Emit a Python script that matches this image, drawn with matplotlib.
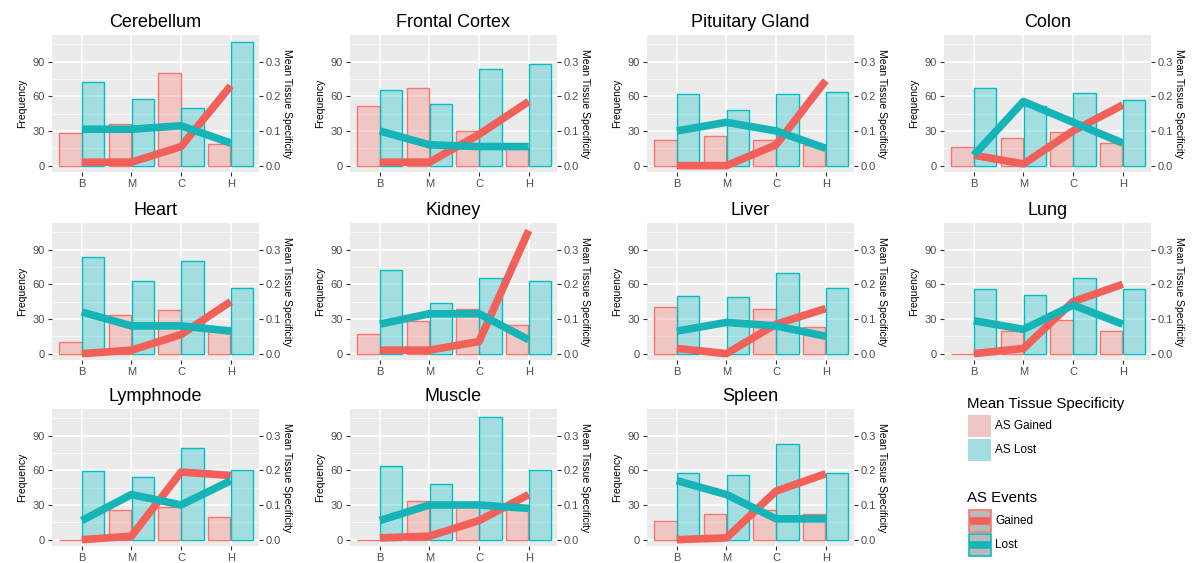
import numpy as np
import matplotlib
matplotlib.use("Agg")
from matplotlib import pyplot as plt
from matplotlib.patches import Rectangle
from matplotlib.lines import Line2D

plt.rcParams['font.family'] = ['Liberation Sans', 'DejaVu Sans']

tissues = ['Cerebellum', 'Frontal Cortex', 'Pituitary Gland', 'Colon',
           'Heart', 'Kidney', 'Liver', 'Lung',
           'Lymphnode', 'Muscle', 'Spleen']
groups = ['B', 'M', 'C', 'H']

# bar heights (frequency of AS events)
gained_freq = [
    [28, 36, 80, 19],
    [52, 67, 30, 15],
    [22, 26, 22, 18],
    [16, 24, 29, 20],
    [10, 33, 38, 23],
    [17, 28, 39, 25],
    [40, 0, 39, 23],
    [0, 20, 29, 20],
    [0, 26, 28, 20],
    [0, 33, 30, 30],
    [16, 22, 26, 22],
]
lost_freq = [
    [72, 58, 50, 107],
    [65, 53, 84, 88],
    [62, 48, 62, 64],
    [67, 52, 63, 57],
    [84, 63, 80, 57],
    [72, 44, 65, 63],
    [50, 49, 70, 57],
    [56, 51, 65, 56],
    [59, 54, 79, 60],
    [64, 48, 106, 60],
    [58, 56, 83, 58],
]
# mean tissue specificity (secondary axis)
gained_spec = [
    [0.010, 0.010, 0.055, 0.230],
    [0.010, 0.010, 0.090, 0.185],
    [0.000, 0.000, 0.060, 0.245],
    [0.030, 0.005, 0.100, 0.175],
    [0.000, 0.010, 0.055, 0.150],
    [0.010, 0.010, 0.035, 0.355],
    [0.015, 0.000, 0.085, 0.130],
    [0.000, 0.015, 0.150, 0.200],
    [0.000, 0.010, 0.195, 0.185],
    [0.005, 0.010, 0.055, 0.130],
    [0.000, 0.005, 0.140, 0.190],
]
lost_spec = [
    [0.105, 0.105, 0.115, 0.065],
    [0.100, 0.060, 0.055, 0.055],
    [0.100, 0.125, 0.100, 0.050],
    [0.030, 0.185, 0.125, 0.065],
    [0.120, 0.080, 0.080, 0.065],
    [0.085, 0.115, 0.115, 0.040],
    [0.065, 0.090, 0.080, 0.050],
    [0.095, 0.070, 0.140, 0.085],
    [0.055, 0.130, 0.100, 0.170],
    [0.055, 0.100, 0.100, 0.090],
    [0.170, 0.130, 0.060, 0.060],
]

RED = '#F8766D'
TEAL = '#00BFC4'
RED_LINE = '#F2605A'
TEAL_LINE = '#16B4B6'
BG = '#EBEBEB'
TXT = '#4D4D4D'

W, H = 1195, 563
fig = plt.figure(figsize=(W / 100, H / 100), dpi=100)

col_left = [52, 350, 647, 944]
row_top = [35, 223, 409]
pw, ph = 207, 137
ymin, ymax = -5.5, 113

x = np.arange(len(groups))
bw = 0.45

for i, name in enumerate(tissues):
    r, c = divmod(i, 4)
    l = col_left[c] / W
    b = 1 - (row_top[r] + ph) / H
    ax = fig.add_axes([l, b, pw / W, ph / H])
    ax.set_facecolor(BG)
    ax.bar(x - 0.005, gained_freq[i], width=-bw, align='edge',
           facecolor=RED, alpha=0.3, edgecolor='none', zorder=2)
    ax.bar(x - 0.005, gained_freq[i], width=-bw, align='edge',
           facecolor='none', edgecolor=RED, linewidth=1.0, zorder=2)
    ax.bar(x + 0.005, lost_freq[i], width=bw, align='edge',
           facecolor=TEAL, alpha=0.3, edgecolor='none', zorder=2)
    ax.bar(x + 0.005, lost_freq[i], width=bw, align='edge',
           facecolor='none', edgecolor=TEAL, linewidth=1.0, zorder=2)
    ax.set_xlim(-0.6, 3.57)
    ax.set_ylim(ymin, ymax)
    ax.set_xticks(x)
    ax.set_xticklabels(groups)
    ax.set_yticks([0, 30, 60, 90])
    ax.set_yticks([15, 45, 75, 105], minor=True)
    ax.grid(True, which='major', color='white', linewidth=1.1, zorder=0)
    ax.grid(True, which='minor', axis='y', color='white', linewidth=0.5, zorder=0)
    ax.set_axisbelow(True)
    for s in ax.spines.values():
        s.set_visible(False)
    ax.tick_params(axis='both', which='major', labelsize=8, colors=TXT,
                   length=3, width=0.8, pad=2, color='#333333')
    ax.tick_params(which='minor', length=0)
    ax.set_ylabel('Frequency', fontsize=7.5, color='black', labelpad=4)
    ax.set_title(name, fontsize=13, pad=6)

    ax2 = ax.twinx()
    ax2.set_ylim(ymin / 300, ymax / 300)
    ax2.set_yticks([0.0, 0.1, 0.2, 0.3])
    ax2.set_yticklabels(['0.0', '0.1', '0.2', '0.3'])
    ax2.plot(x, gained_spec[i], color=RED_LINE, lw=5.5,
             solid_capstyle='butt', solid_joinstyle='round', zorder=3)
    ax2.plot(x, lost_spec[i], color=TEAL_LINE, lw=5.5,
             solid_capstyle='butt', solid_joinstyle='round', zorder=3)
    for s in ax2.spines.values():
        s.set_visible(False)
    ax2.tick_params(axis='y', labelsize=8, colors=TXT, length=3, width=0.8,
                    pad=2, color='#333333')
    ax2.set_ylabel('Mean Tissue Specificity', fontsize=7.5, rotation=-90,
                   labelpad=8)

# legends drawn in figure pixel coordinates
def fx(px):
    return px / W


def fy(py):
    return 1 - py / H


fig.text(fx(967), fy(404), 'Mean Tissue Specificity', fontsize=10.8,
         va='center', ha='left')
fill_labels = ['AS Gained', 'AS Lost']
fill_cols = [RED, TEAL]
for k, (lab, col) in enumerate(zip(fill_labels, fill_cols)):
    top = 415 + k * 24
    fig.patches.append(Rectangle((fx(968), fy(top + 22)), 23 / W, 22 / H,
                                 transform=fig.transFigure, facecolor=BG,
                                 edgecolor='none'))
    fig.patches.append(Rectangle((fx(968), fy(top + 22)), 23 / W, 22 / H,
                                 transform=fig.transFigure, facecolor=col,
                                 alpha=0.3, edgecolor='none'))
    fig.text(fx(995), fy(top + 11), lab, fontsize=8.5, va='center', ha='left')

fig.text(fx(967), fy(498), 'AS Events', fontsize=10.8, va='center', ha='left')
line_labels = ['Gained', 'Lost']
line_cols = [RED_LINE, TEAL_LINE]
for k, (lab, col) in enumerate(zip(line_labels, line_cols)):
    top = 510 + k * 24
    fig.patches.append(Rectangle((fx(968.5), fy(top + 22)), 22 / W, 22 / H,
                                 transform=fig.transFigure, facecolor='#B9B9B9',
                                 edgecolor=fill_cols[k], linewidth=1.2))
    fig.lines.append(Line2D([fx(970), fx(989.5)], [fy(top + 11), fy(top + 11)],
                            transform=fig.transFigure, color=col, lw=5.5,
                            solid_capstyle='butt'))
    fig.text(fx(995), fy(top + 11), lab, fontsize=8.5, va='center', ha='left')

fig.savefig('out.png', dpi=100)
